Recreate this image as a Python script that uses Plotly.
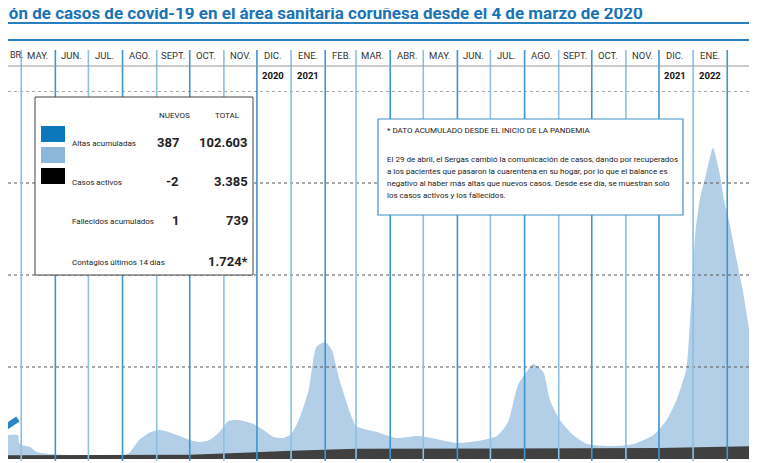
import plotly.graph_objects as go

# light blue area (casos activos)
active_dates = ["2020-04-12", "2020-04-28", "2020-04-29", "2020-05-01", "2020-05-09", "2020-05-15",
                "2020-05-27", "2020-06-14", "2020-07-02", "2020-07-29", "2020-08-07", "2020-08-16",
                "2020-08-25", "2020-09-04", "2020-09-17", "2020-10-01", "2020-10-10", "2020-10-19",
                "2020-10-28", "2020-11-05", "2020-11-14", "2020-11-28", "2020-12-07", "2020-12-16",
                "2020-12-25", "2021-01-01", "2021-01-08", "2021-01-17", "2021-01-24", "2021-02-01",
                "2021-02-07", "2021-02-14", "2021-02-25", "2021-03-01", "2021-03-12", "2021-03-20",
                "2021-04-07", "2021-04-25", "2021-05-04", "2021-06-01", "2021-06-19", "2021-07-07",
                "2021-07-17", "2021-07-26", "2021-08-04", "2021-08-09", "2021-08-18", "2021-08-24",
                "2021-09-02", "2021-09-14", "2021-09-27", "2021-10-20", "2021-11-08", "2021-11-26",
                "2021-12-08", "2021-12-17", "2021-12-26", "2021-12-29", "2021-12-31", "2022-01-03",
                "2022-01-07", "2022-01-13", "2022-01-19", "2022-01-25", "2022-01-29", "2022-02-03",
                "2022-02-09", "2022-02-15", "2022-02-21", "2022-02-26", "2022-02-28"]
active_vals = [250, 260, 174, 152, 130, 76,
               54, 43, 33, 33, 65, 207,
               283, 315, 272, 207, 185, 207,
               293, 413, 424, 380, 315, 239,
               228, 272, 424, 750, 1217, 1272,
               1185, 859, 457, 359, 315, 293,
               228, 250, 239, 174, 196, 250,
               402, 804, 967, 1033, 946, 641,
               424, 261, 163, 141, 163, 261,
               424, 641, 989, 1478, 1837, 2457,
               2815, 3109, 3380, 3109, 2815, 2565,
               2196, 1837, 1402, 1043, 859]

# dark band at the bottom (fallecidos)
dead_dates = ["2020-04-12", "2020-10-01", "2021-01-01", "2021-03-01", "2021-12-01", "2022-02-28"]
dead_vals = [40, 45, 90, 110, 120, 140]

# early "altas acumuladas" segment
altas_dates = ["2020-04-12", "2020-04-28"]
altas_vals = [304, 435]

month_starts = ["2020-05-01", "2020-06-01", "2020-07-01", "2020-08-01", "2020-09-01", "2020-10-01",
                "2020-11-01", "2020-12-01", "2021-01-01", "2021-02-01", "2021-03-01", "2021-04-01",
                "2021-05-01", "2021-06-01", "2021-07-01", "2021-08-01", "2021-09-01", "2021-10-01",
                "2021-11-01", "2021-12-01", "2022-01-01", "2022-02-01"]
month_labels = ["MAY.", "JUN.", "JUL.", "AGO.", "SEPT.", "OCT.", "NOV.", "DIC.", "ENE.", "FEB.",
                "MAR.", "ABR.", "MAY.", "JUN.", "JUL.", "AGO.", "SEPT.", "OCT.", "NOV.", "DIC.",
                "ENE.", ""]
year_marks = {"2020-12-16": "2020", "2021-01-16": "2021", "2021-12-16": "2021", "2022-01-16": "2022"}

# the page puts the figure 8px in from the corner, so draw in reference pixels minus 8
OFF = 8
W, H = 757 - OFF, 463 - OFF
TOP, BOT = 91, 461


def py(p):
    return (BOT - p) / (BOT - TOP)


def px(p):
    return (p - OFF) / W


fig = go.Figure()
fig.add_trace(go.Scatter(x=active_dates, y=active_vals, mode="lines", line=dict(width=0, shape="spline", smoothing=0.6),
                         fill="tozeroy", fillcolor="#b3cfe7", hoverinfo="skip"))
fig.add_trace(go.Scatter(x=dead_dates, y=dead_vals, mode="lines", line=dict(width=0),
                         fill="tozeroy", fillcolor="#404040", hoverinfo="skip"))
fig.add_trace(go.Scatter(x=altas_dates, y=altas_vals, mode="lines", line=dict(width=6, color="#2e86c6"),
                         hoverinfo="skip"))

shapes = []
# dotted grid
for g in [1000, 2000, 3000, 4000]:
    shapes.append(dict(type="line", xref="paper", yref="y", x0=0, x1=1, y0=g, y1=g,
                       line=dict(color="#555", width=1, dash="dot"), layer="above"))
# month separators
for i, d in enumerate(month_starts):
    shapes.append(dict(type="line", xref="x", yref="paper", x0=d, x1=d, y0=0, y1=py(50),
                       line=dict(color="#3f95cf" if i % 2 else "#8cc0e2", width=1.6), layer="above"))
# header lines
for yy, col, wd in [(23, "#2a7fc0", 2), (40, "#2a7fc0", 2), (66, "#999", 1)]:
    shapes.append(dict(type="line", xref="paper", yref="paper", x0=0, x1=1, y0=py(yy), y1=py(yy),
                       line=dict(color=col, width=wd)))
# legend box
shapes.append(dict(type="rect", xref="paper", yref="paper", x0=px(35), x1=px(253), y0=py(275), y1=py(97),
                   fillcolor="white", line=dict(color="#444", width=1), layer="above"))
for c, t in [("#0b78bb", 126), ("#8db7da", 147), ("#000000", 168)]:
    shapes.append(dict(type="rect", xref="paper", yref="paper", x0=px(41), x1=px(65), y0=py(t + 16), y1=py(t),
                       fillcolor=c, line=dict(width=0), layer="above"))
# note box
shapes.append(dict(type="rect", xref="paper", yref="paper", x0=px(378), x1=px(683), y0=py(215), y1=py(119),
                   fillcolor="white", line=dict(color="#3d8fc8", width=1.2), layer="above"))

ann = []
F = "Roboto"
ann.append(dict(text="Evolución de casos de covid-19 en el área sanitaria coruñesa desde el 4 de marzo de 2020",
                xref="paper", yref="paper", x=px(645), y=py(13), xanchor="right", yanchor="middle",
                showarrow=False, font=dict(family=F, size=17, color="#1a73b5", weight="bold")))
ann.append(dict(text="BR.", xref="paper", yref="paper", x=0, y=py(55), xanchor="left", yanchor="middle",
                showarrow=False, font=dict(family=F, size=9, color="#333")))
for i, lab in enumerate(month_labels):
    if lab:
        y0, m0 = int(month_starts[i][:4]), int(month_starts[i][5:7])
        ann.append(dict(text=lab, xref="x", yref="paper", x=f"{y0}-{m0:02d}-16", y=py(55),
                        xanchor="center", yanchor="middle", showarrow=False,
                        font=dict(family=F, size=9.5, color="#333")))
for d, t in year_marks.items():
    ann.append(dict(text="<b>" + t + "</b>", xref="x", yref="paper", x=d, y=py(75), xanchor="center",
                    yanchor="middle", showarrow=False, font=dict(family=F, size=9.5, color="#111")))


def txt(s, x, y, anchor="left", size=8, bold=False, color="#222"):
    ann.append(dict(text=f"<b>{s}</b>" if bold else s, xref="paper", yref="paper", x=px(x), y=py(y),
                    xanchor=anchor, yanchor="middle", showarrow=False,
                    font=dict(family=F, size=size, color=color)))


txt("NUEVOS", 174, 115, "center", 8)
txt("TOTAL", 227, 115, "center", 8)
txt("Altas acumuladas", 70, 143, size=8)
txt("387", 181, 142, "right", 13, True)
txt("102.603", 250, 142, "right", 13, True)
txt("Casos activos", 70, 182, size=8)
txt("-2", 181, 181, "right", 13, True)
txt("3.385", 250, 181, "right", 13, True)
txt("Fallecidos acumulados", 70, 221, size=8)
txt("1", 181, 220, "right", 13, True)
txt("739", 250, 220, "right", 13, True)
txt("Contagios últimos 14 días", 70, 262, size=8)
txt("1.724*", 250, 261, "right", 13, True)

txt("* DATO ACUMULADO DESDE EL INICIO DE LA PANDEMIA", 385, 130, size=8)
note = ["El 29 de abril, el Sergas cambió la comunicación de casos, dando por recuperados",
        "a los pacientes que pasaron la cuarentena en su hogar, por lo que el balance es",
        "negativo al haber más altas que nuevos casos. Desde ese día, se muestran solo",
        "los casos activos y los fallecidos."]
for k, line in enumerate(note):
    txt(line, 385, 159 + 12 * k, size=8)

fig.update_layout(
    width=W, height=H, margin=dict(l=0, r=0, t=TOP - OFF, b=463 - BOT),
    paper_bgcolor="white", plot_bgcolor="white", showlegend=False,
    xaxis=dict(type="date", range=["2020-04-19", "2022-02-28"], showgrid=False, zeroline=False,
               showticklabels=False, ticks=""),
    yaxis=dict(range=[-22, 4000], showgrid=False, zeroline=False, showticklabels=False, ticks=""),
    shapes=shapes, annotations=ann,
)
fig.write_html("out.html")
